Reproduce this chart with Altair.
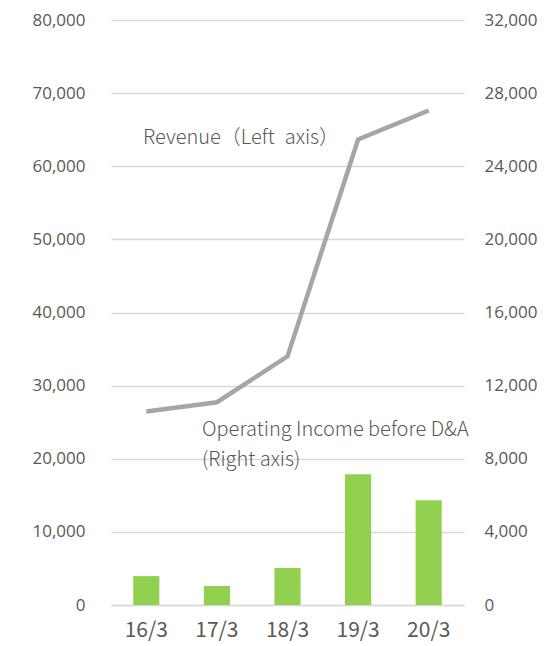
import altair as alt
import pandas as pd

periods = ["16/3", "17/3", "18/3", "19/3", "20/3"]
revenue = [26460, 27730, 34000, 63660, 67620]
op_income = [1580, 1040, 2020, 7150, 5730]

left_ticks = [0, 10000, 20000, 30000, 40000, 50000, 60000, 70000, 80000]
right_ticks = [0, 4000, 8000, 12000, 16000, 20000, 24000, 28000, 32000]

df = pd.DataFrame({"period": periods, "revenue": revenue, "op": op_income})

W, H = 353, 585
label_color = "#595959"
num_font = "Open Sans"
jp_font = "Noto Sans CJK JP"

x = alt.X("period:N", sort=periods, title=None,
          scale=alt.Scale(paddingInner=0.63, paddingOuter=0.315),
          axis=alt.Axis(labelAngle=0, labelFont=jp_font, labelFontSize=21,
                        labelColor=label_color, ticks=False, domain=True, grid=False,
                        domainColor="#d9d9d9", domainWidth=1.3, labelPadding=14))

line = alt.Chart(df).mark_line(color="#a6a6a6", strokeWidth=4.5).encode(
    x=x,
    y=alt.Y("revenue:Q", title=None,
            scale=alt.Scale(domain=[0, 80000], nice=False, zero=True),
            axis=alt.Axis(orient="left", values=left_ticks, format=",.0f",
                          labelFont=num_font, labelFontSize=17, labelColor=label_color,
                          ticks=False, domain=False, grid=True, gridColor="#d9d9d9",
                          gridWidth=1.3, labelPadding=26)),
)

bars = alt.Chart(df).mark_bar(color="#92d050").encode(
    x=x,
    y=alt.Y("op:Q", title=None,
            scale=alt.Scale(domain=[0, 32000], nice=False, zero=True),
            axis=alt.Axis(orient="right", values=right_ticks, format=",.0f",
                          labelFont=num_font, labelFontSize=17, labelColor=label_color,
                          ticks=False, domain=False, grid=False, labelPadding=20)),
)

ann_rev = alt.Chart(pd.DataFrame({"t": ["Revenue（Left\u2002axis）"]})).mark_text(
    align="left", baseline="middle", font=jp_font, fontSize=20, fontWeight=300,
    color=label_color
).encode(text="t:N", x=alt.value(32), y=alt.value(118))

ann_op = alt.Chart(pd.DataFrame({"t": [["Operating Income before D&A", "(Right axis)"]]})).mark_text(
    align="left", baseline="middle", font=jp_font, fontSize=20, fontWeight=300,
    color=label_color, lineHeight=30
).encode(text="t", x=alt.value(91), y=alt.value(410))

chart = alt.layer(line, bars, ann_rev, ann_op).resolve_scale(y="independent").properties(
    width=W, height=H,
    background="white",
    autosize=alt.AutoSizeParams(type="none"),
    padding={"left": 103, "top": 12, "right": 80, "bottom": 40},
).configure_view(stroke=None, strokeWidth=0)

chart.save("out.html", embed_options={"renderer": "svg", "actions": False})
